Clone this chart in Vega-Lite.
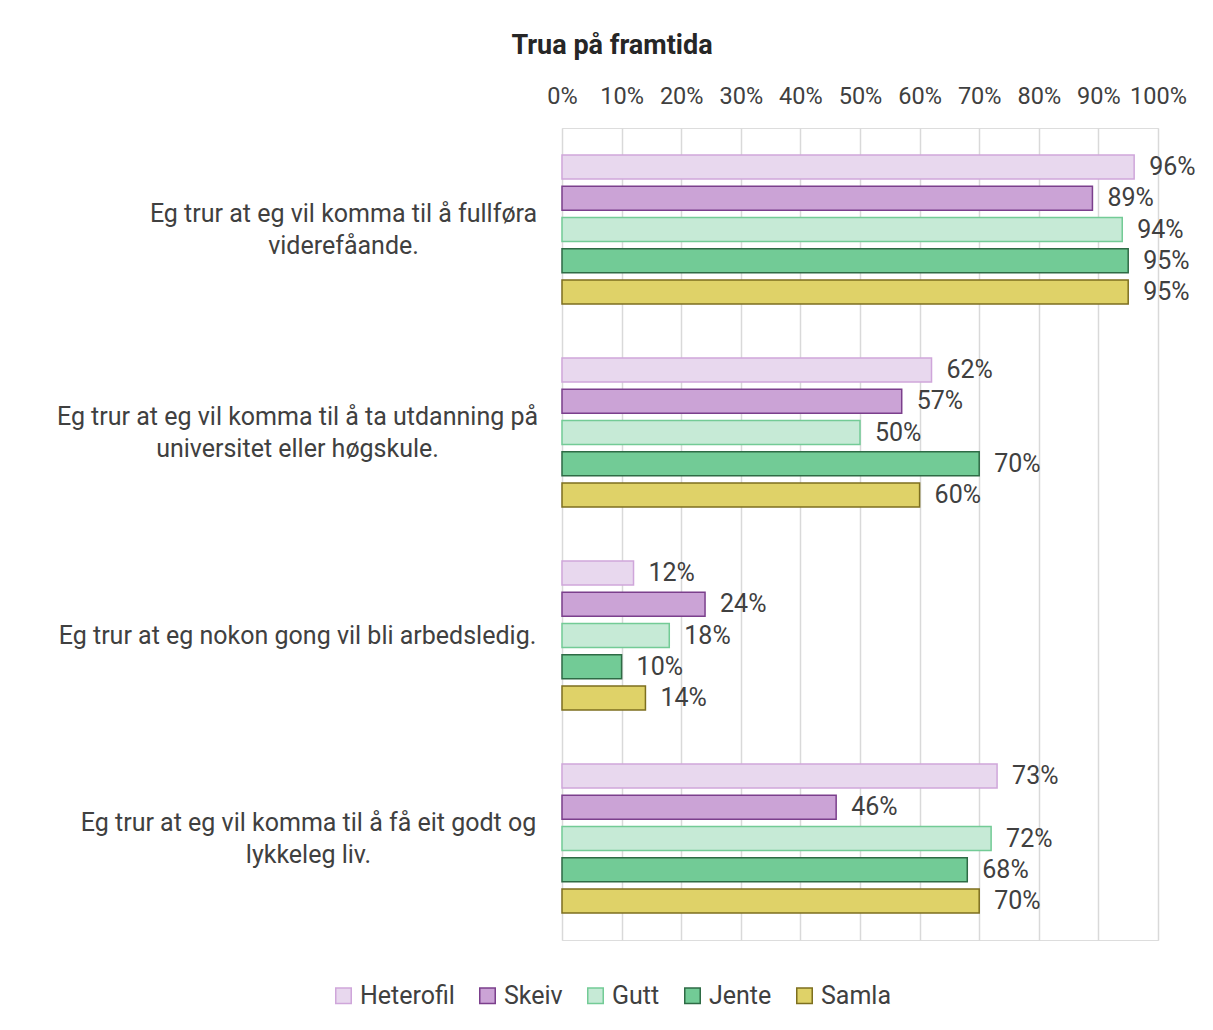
{
  "$schema": "https://vega.github.io/schema/vega-lite/v6.json",
  "autosize": "none",
  "width": 596,
  "height": 812,
  "padding": {"left": 562, "top": 128, "right": 55, "bottom": 90},
  "background": "white",
  "title": {
    "text": "Trua på framtida",
    "font": "Roboto",
    "fontSize": 27,
    "fontWeight": "bold",
    "color": "#262626",
    "anchor": "middle",
    "dx": -248,
    "offset": 24
  },
  "data": {
    "values": [
      {"q": "Eg trur at eg vil komma til å fullføra|viderefåande.", "group": "Heterofil", "v": 0.96},
      {"q": "Eg trur at eg vil komma til å fullføra|viderefåande.", "group": "Skeiv", "v": 0.89},
      {"q": "Eg trur at eg vil komma til å fullføra|viderefåande.", "group": "Gutt", "v": 0.94},
      {"q": "Eg trur at eg vil komma til å fullføra|viderefåande.", "group": "Jente", "v": 0.95},
      {"q": "Eg trur at eg vil komma til å fullføra|viderefåande.", "group": "Samla", "v": 0.95},
      {"q": "Eg trur at eg vil komma til å ta utdanning på|universitet eller høgskule.", "group": "Heterofil", "v": 0.62},
      {"q": "Eg trur at eg vil komma til å ta utdanning på|universitet eller høgskule.", "group": "Skeiv", "v": 0.57},
      {"q": "Eg trur at eg vil komma til å ta utdanning på|universitet eller høgskule.", "group": "Gutt", "v": 0.50},
      {"q": "Eg trur at eg vil komma til å ta utdanning på|universitet eller høgskule.", "group": "Jente", "v": 0.70},
      {"q": "Eg trur at eg vil komma til å ta utdanning på|universitet eller høgskule.", "group": "Samla", "v": 0.60},
      {"q": "Eg trur at eg nokon gong vil bli arbedsledig.", "group": "Heterofil", "v": 0.12},
      {"q": "Eg trur at eg nokon gong vil bli arbedsledig.", "group": "Skeiv", "v": 0.24},
      {"q": "Eg trur at eg nokon gong vil bli arbedsledig.", "group": "Gutt", "v": 0.18},
      {"q": "Eg trur at eg nokon gong vil bli arbedsledig.", "group": "Jente", "v": 0.10},
      {"q": "Eg trur at eg nokon gong vil bli arbedsledig.", "group": "Samla", "v": 0.14},
      {"q": "Eg trur at eg vil komma til å få eit godt og|lykkeleg liv.", "group": "Heterofil", "v": 0.73},
      {"q": "Eg trur at eg vil komma til å få eit godt og|lykkeleg liv.", "group": "Skeiv", "v": 0.46},
      {"q": "Eg trur at eg vil komma til å få eit godt og|lykkeleg liv.", "group": "Gutt", "v": 0.72},
      {"q": "Eg trur at eg vil komma til å få eit godt og|lykkeleg liv.", "group": "Jente", "v": 0.68},
      {"q": "Eg trur at eg vil komma til å få eit godt og|lykkeleg liv.", "group": "Samla", "v": 0.70}
    ]
  },
  "encoding": {
    "y": {
      "field": "q",
      "type": "nominal",
      "sort": null,
      "title": null,
      "scale": {"paddingInner": 0, "paddingOuter": 0},
      "axis": {
        "domain": false,
        "ticks": false,
        "grid": false,
        "labelExpr": "split(datum.label, '|')",
        "labelAlign": "center",
        "labelBaseline": "middle",
        "labelLineHeight": 32,
        "labelPadding": {"expr": "datum.value == 'Eg trur at eg vil komma til å fullføra|viderefåande.' ? 219 : (datum.value == 'Eg trur at eg vil komma til å få eit godt og|lykkeleg liv.' ? 254 : 265)"},
        "labelOffset": {"expr": "datum.value == 'Eg trur at eg nokon gong vil bli arbedsledig.' ? 0 : -16"},
        "labelFont": "Roboto",
        "labelFontSize": 25,
        "labelColor": "#404040",
        "labelLimit": 600
      }
    },
    "yOffset": {
      "field": "group",
      "type": "nominal",
      "sort": ["Heterofil", "Skeiv", "Gutt", "Jente", "Samla"],
      "scale": {"paddingInner": 0.233, "paddingOuter": 0.86}
    },
    "x": {
      "field": "v",
      "type": "quantitative",
      "title": null,
      "scale": {"domain": [0, 1], "nice": false},
      "axis": {
        "orient": "top",
        "format": ".0%",
        "values": [0, 0.1, 0.2, 0.3, 0.4, 0.5, 0.6, 0.7, 0.8, 0.9, 1],
        "domain": false,
        "ticks": false,
        "grid": true,
        "gridColor": "#d9d9d9",
        "gridWidth": 1.5,
        "labelFont": "Roboto",
        "labelFontSize": 23.5,
        "labelColor": "#404040",
        "labelPadding": 20,
        "labelFlush": false
      }
    }
  },
  "layer": [
    {
      "mark": {"type": "bar", "strokeWidth": 1.5},
      "encoding": {
        "fill": {
          "field": "group",
          "type": "nominal",
          "sort": ["Heterofil", "Skeiv", "Gutt", "Jente", "Samla"],
          "scale": {
            "domain": ["Heterofil", "Skeiv", "Gutt", "Jente", "Samla"],
            "range": ["#e8d8ee", "#cba3d6", "#c6ead6", "#72cb96", "#dfd268"]
          },
          "legend": {
            "title": null,
            "orient": "none",
            "direction": "horizontal",
            "legendX": -231,
            "legendY": 855,
            "symbolType": "square",
            "symbolSize": 240,
            "symbolStrokeWidth": 1.5,
            "symbolOpacity": 1,
            "labelFont": "Roboto",
            "labelFontSize": 25,
            "labelColor": "#404040",
            "labelOffset": 4,
            "columnPadding": 20
          }
        },
        "stroke": {
          "field": "group",
          "type": "nominal",
          "sort": ["Heterofil", "Skeiv", "Gutt", "Jente", "Samla"],
          "scale": {
            "domain": ["Heterofil", "Skeiv", "Gutt", "Jente", "Samla"],
            "range": ["#cfa6da", "#7b3f8c", "#73cb96", "#2e6b45", "#7d6f1f"]
          },
          "legend": {
            "title": null,
            "orient": "none",
            "direction": "horizontal",
            "legendX": -231,
            "legendY": 855,
            "symbolType": "square",
            "symbolSize": 240,
            "symbolStrokeWidth": 1.5,
            "labelFont": "Roboto",
            "labelFontSize": 25,
            "labelColor": "#404040",
            "labelOffset": 4,
            "columnPadding": 20
          }
        }
      }
    },
    {
      "mark": {"type": "text", "align": "left", "baseline": "middle", "dx": 15, "font": "Roboto", "fontSize": 25, "color": "#404040"},
      "encoding": {
        "text": {"field": "v", "type": "quantitative", "format": ".0%"}
      }
    }
  ]
}
